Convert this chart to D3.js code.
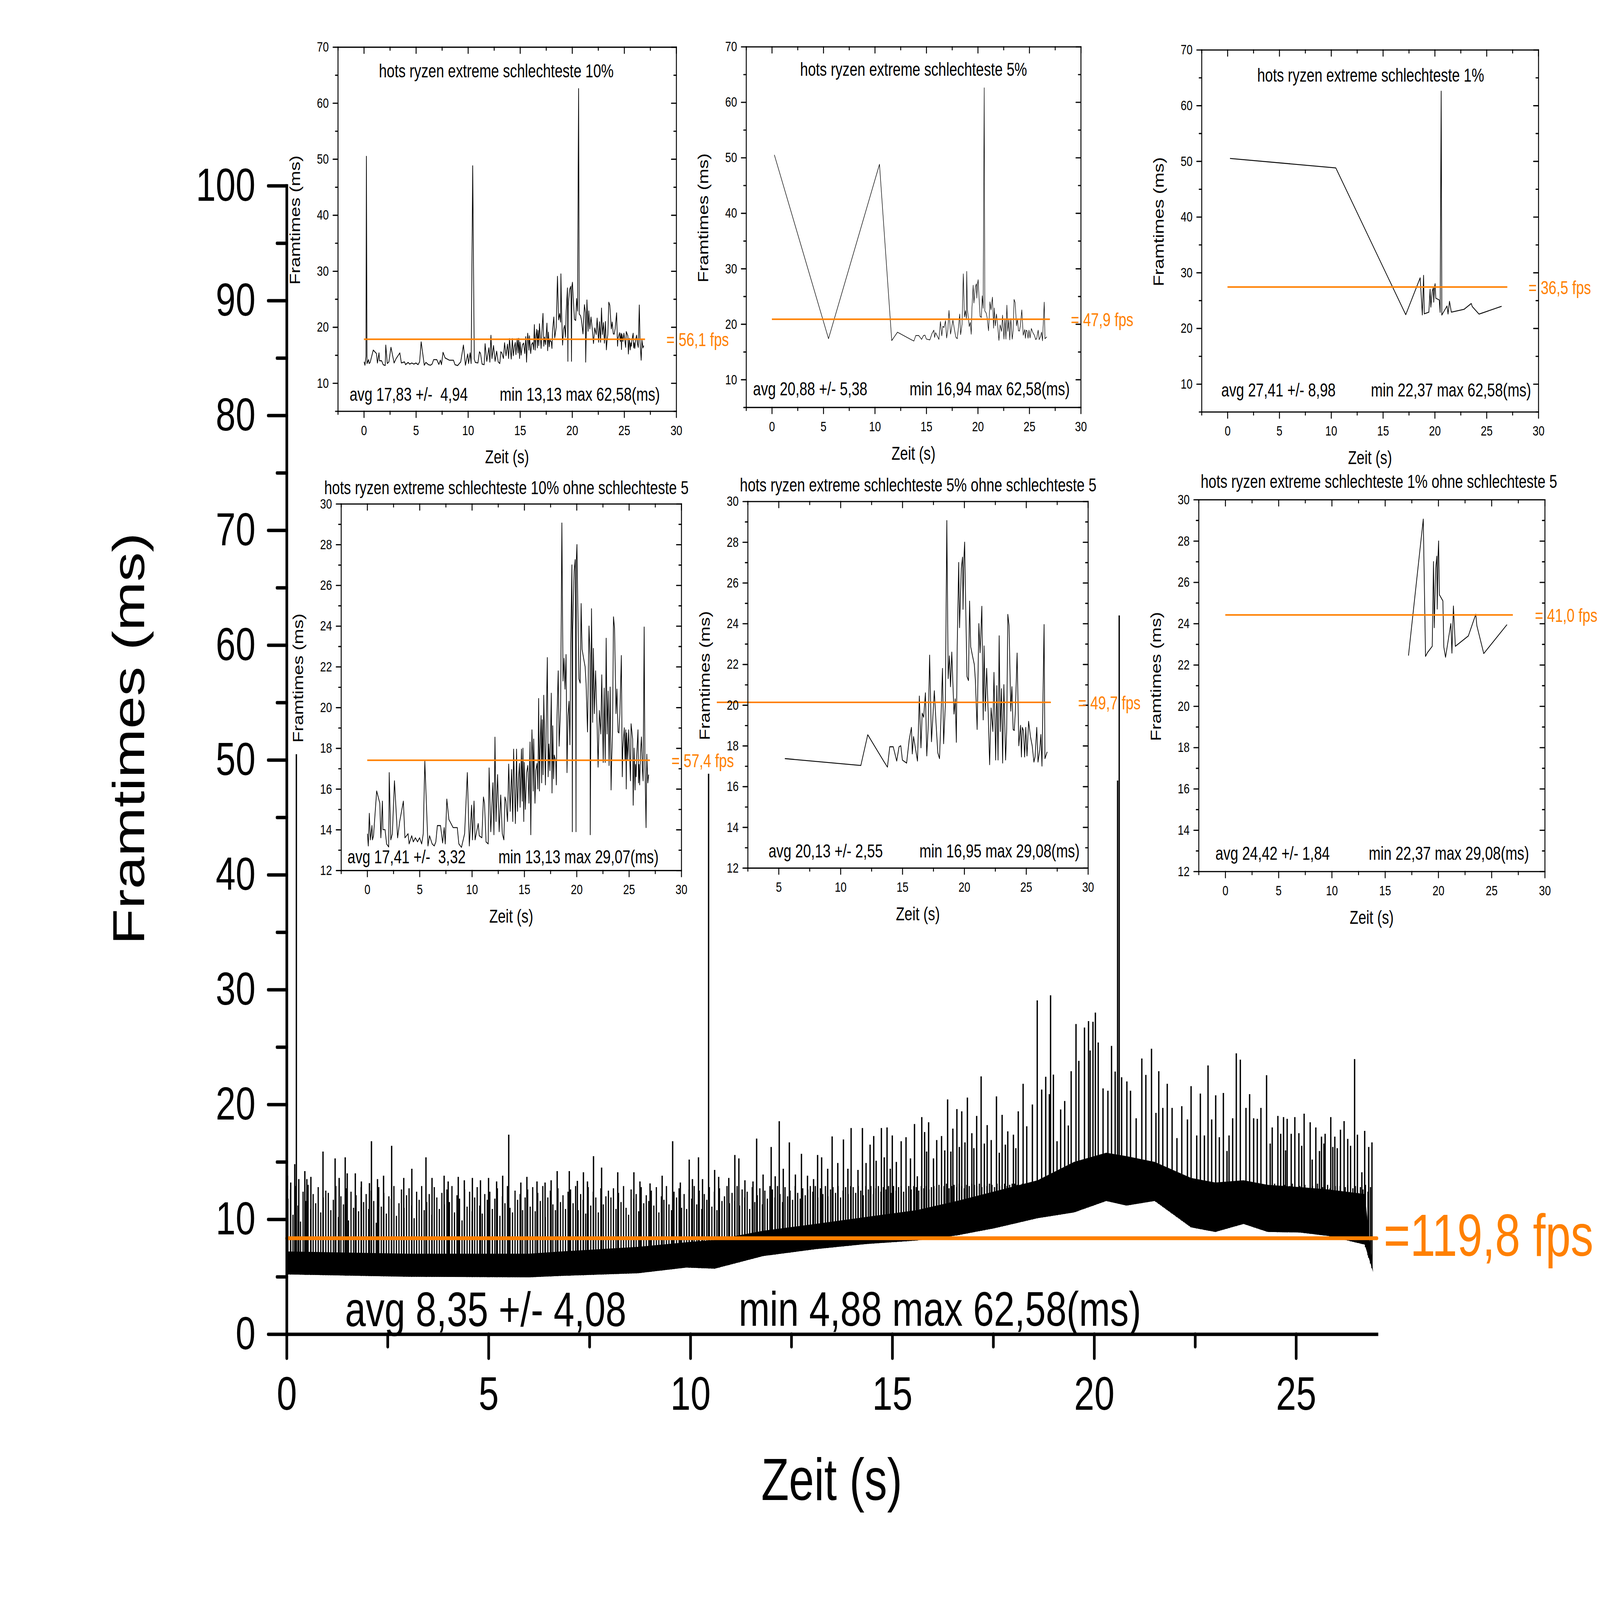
<!DOCTYPE html>
<html>
<head>
<meta charset="utf-8">
<script src="https://cdn.jsdelivr.net/npm/d3@7"></script>
<style>
html, body { margin: 0; padding: 0; background: #fff; overflow: hidden; }
svg { display: block; width: 100vw; height: 100vh; }
text { white-space: pre; }
</style>
</head>
<body>
<script>
// ---------- data ----------
// worst 10 % frames (time in s, frametime in ms); the other insets are subsets of it
const worstT = [0.02,0.1,0.2,0.24,0.3,0.45,0.5,0.6,0.9,1.2,1.3,1.45,1.5,1.7,1.85,2.05,2.1,2.25,2.4,2.6,2.9,3.1,3.45,3.6,3.9,4.0,4.25,4.4,4.6,4.8,5.0,5.2,5.35,5.5,5.8,5.95,6.2,6.4,6.55,6.7,7.0,7.2,7.35,7.45,7.6,7.8,8.2,8.6,8.75,9.0,9.3,9.56,9.75,9.97,10.05,10.2,10.3,10.45,10.6,10.7,10.95,11.1,11.2,11.35,11.55,11.64,11.8,12.0,12.1,12.2,12.3,12.45,12.6,12.75,12.9,13.05,13.15,13.25,13.4,13.51,13.65,13.79,13.9,13.98,14.15,14.26,14.35,14.45,14.54,14.6,14.73,14.8,14.87,14.95,15.0,15.1,15.22,15.34,15.45,15.55,15.62,15.73,15.8,15.85,15.9,16.02,16.1,16.22,16.3,16.37,16.45,16.5,16.6,16.66,16.72,16.8,16.86,16.97,17.02,17.09,17.2,17.28,17.35,17.45,17.58,17.65,17.72,17.8,17.86,18.0,18.06,18.12,18.24,18.33,18.47,18.59,18.7,18.8,18.89,18.92,18.99,19.08,19.17,19.27,19.36,19.43,19.55,19.59,19.62,19.76,19.86,19.9,19.94,19.97,20.03,20.1,20.22,20.34,20.43,20.52,20.58,20.62,20.68,20.81,20.9,21.04,21.18,21.28,21.3,21.42,21.53,21.6,21.7,21.81,21.93,22.05,22.17,22.31,22.4,22.54,22.63,22.73,22.82,22.91,23.01,23.1,23.2,23.29,23.34,23.43,23.52,23.62,23.76,23.85,23.95,24.04,24.13,24.27,24.36,24.41,24.55,24.62,24.69,24.74,24.78,24.88,24.97,25.07,25.14,25.2,25.35,25.4,25.49,25.58,25.63,25.69,25.72,25.86,25.91,25.96,26.02,26.1,26.19,26.28,26.35,26.45,26.52,26.63,26.7,26.8,26.88];
const worstMs = [13.8,13.2,14.8,50.5,13.5,14.2,13.5,13.7,15.9,15.3,13.6,15.4,14.0,14.0,13.3,13.15,16.8,13.5,13.8,16.4,13.6,14.4,15.4,13.6,13.8,13.3,13.7,13.4,13.6,13.4,13.6,13.3,13.8,17.37,13.2,13.7,13.3,13.2,13.4,14.2,14.2,13.35,14.1,13.3,15.5,14.5,14.1,14.1,13.3,13.13,13.8,16.8,13.2,15.2,13.5,15.4,13.5,48.8,14.3,13.7,13.6,15.6,15.3,13.4,13.3,17.03,13.9,16.3,13.75,18.54,14.4,16.7,13.9,15.7,13.8,13.5,15.6,15.4,14.4,17.22,14.9,16.95,14.4,17.95,14.3,17.95,14.9,16.5,17.25,15.1,17.95,15.4,18.0,14.4,17.3,15.0,16.8,17.15,15.3,18.3,13.75,18.9,17.6,15.9,18.45,15.3,16.9,17.25,16.0,20.44,15.9,17.9,19.6,16.3,19.4,16.7,20.6,17.5,16.2,19.0,22.45,16.6,18.2,16.9,20.7,15.8,19.1,16.5,17.66,17.37,16.2,19.4,21.8,18.1,20.0,29.06,21.3,22.41,20.9,29.5,22.6,16.8,19.56,20.3,18.17,22.9,27.0,13.9,23.8,26.7,27.26,24.7,13.9,27.2,28.0,25.4,21.4,21.2,25.1,22.86,48.2,62.58,22.37,22.0,21.2,18.8,24.0,22.57,13.75,24.85,19.27,22.9,19.7,21.8,19.7,17.07,19.85,18.7,21.6,17.3,20.95,17.3,23.4,18.7,20.8,17.15,21.0,15.95,17.3,18.8,24.45,23.9,19.7,20.9,18.8,18.75,19.7,22.55,16.6,18.0,19.0,17.45,18.9,16.0,18.75,17.45,18.9,17.5,16.4,19.2,18.45,15.2,18.0,15.95,17.2,16.6,17.45,18.9,16.3,17.2,16.2,17.8,18.55,17.0,16.4,23.95,17.37,14.1,17.7,16.3,16.7];

// main trace: dense body of the frametime band (lowest frames / top of the solid part)
const bodyT  = [0, 3, 6, 6.8, 8.7, 9.9, 10.6, 11.8, 13.1, 14.35, 15.6, 16.6, 17.5, 18.6, 19.5, 20.3, 20.8, 21.5, 22.4, 23.0, 23.7, 24.3, 25.1, 25.8, 26.7, 26.91];
const bodyLo = [5.2, 5.0, 4.95, 5.07, 5.3, 5.8, 5.7, 6.8, 7.4, 7.85, 8.15, 8.6, 9.2, 10.1, 10.6, 11.6, 11.2, 11.6, 9.3, 8.9, 9.6, 8.9, 8.85, 8.55, 7.8, 5.4];
const bodyHi = [7.2, 7.0, 7.0, 7.2, 7.6, 8.0, 8.2, 9.0, 9.6, 10.2, 10.8, 11.6, 12.4, 13.4, 15.0, 15.8, 15.5, 15.0, 13.6, 13.2, 13.4, 13.0, 12.8, 12.6, 12.2, 5.4];

// main trace: the remaining frame peaks below 13,13 ms, 16 frames per second of recording
const peakMs = [
  [11.8,12.6,10.4,12.9,11.2,9.8,12.4,11.6,13.0,10.9,12.2,11.4,12.8,10.6,11.9,12.5],
  [12.3,10.8,11.7,12.9,10.2,12.0,11.3,12.7,9.9,12.4,11.0,12.1,10.7,12.8,11.5,12.2],
  [10.9,12.5,11.6,9.7,12.8,11.1,12.3,10.5,12.0,11.8,12.9,10.3,11.4,12.6,11.0,12.1],
  [12.7,11.2,10.1,12.4,11.7,12.9,10.8,11.5,12.2,10.4,12.8,11.9,10.9,12.3,11.3,12.6],
  [11.5,12.9,10.6,12.1,11.8,9.9,12.6,11.1,12.4,10.7,11.9,12.8,11.2,10.5,12.2,11.7],
  [12.4,10.9,11.8,12.7,10.3,12.0,11.4,12.9,11.0,10.6,12.5,11.7,12.2,10.8,11.9,12.6],
  [11.1,12.8,10.7,12.3,11.6,12.9,10.2,11.9,12.5,11.3,10.8,12.7,11.5,12.1,10.9,12.4],
  [12.6,11.4,12.9,10.8,12.2,11.7,10.5,12.8,11.2,12.4,11.9,10.6,12.7,11.3,12.0,12.5],
  [11.9,12.7,10.9,12.3,11.5,12.9,11.0,10.4,12.6,11.8,12.2,10.7,12.8,11.4,12.1,11.6],
  [12.5,11.2,12.8,10.6,12.0,11.7,12.9,11.3,10.8,12.4,11.9,12.7,11.0,12.2,10.9,12.6],
  [11.8,12.9,11.3,12.5,10.9,12.2,11.7,12.8,11.1,12.4,10.8,12.7,11.6,12.0,12.9,11.4],
  [12.3,11.6,12.9,11.2,12.6,11.9,12.4,10.9,12.8,11.5,12.1,12.7,11.3,12.5,11.8,12.9],
  [12.6,11.9,12.9,12.2,11.5,12.8,12.0,12.5,11.7,12.9,12.3,11.8,12.7,12.1,12.6,12.9],
  [12.4,12.9,11.9,12.7,12.2,12.9,12.0,12.6,12.8,12.3,12.9,11.9,12.5,12.8,12.2,12.9],
  [12.8,12.3,12.9,12.5,12.1,12.9,12.6,12.9,12.2,12.7,12.9,12.4,12.8,12.6,12.9,12.3],
  [12.9,12.5,12.8,12.9,12.4,12.7,12.9,12.6,12.9,12.8,12.5,12.9,12.7,12.9,12.6,12.8],
  [12.9,12.7,13.0,12.8,12.9,13.1,12.7,12.9,13.0,12.8,13.1,12.9,12.7,13.0,12.9,13.1],
  [13.0,12.9,13.1,12.8,13.0,12.9,13.1,13.0,12.8,13.1,12.9,13.0,13.1,12.9,13.0,13.1],
  [13.1,13.0,12.9,13.1,13.0,13.1,12.9,13.0,13.1,13.0,12.9,13.1,13.0,13.1,12.9,13.0],
  [13.0,13.1,13.0,12.9,13.1,13.0,13.1,13.0,12.9,13.1,13.0,13.1,13.0,13.1,13.0,12.9],
  [13.1,13.0,13.1,13.0,13.1,12.9,13.0,13.1,13.0,13.1,13.0,12.9,13.1,13.0,13.1,13.0],
  [13.0,13.1,12.9,13.0,13.1,13.0,13.1,12.9,13.0,13.1,13.0,13.1,12.9,13.0,13.1,13.0],
  [12.9,13.1,13.0,12.8,13.1,12.9,13.0,13.1,12.8,13.0,12.9,13.1,13.0,12.8,13.1,12.9],
  [12.8,13.0,12.6,13.1,12.9,12.7,13.0,12.8,13.1,12.6,12.9,13.0,12.7,13.1,12.8,12.9],
  [12.7,13.1,12.5,12.9,13.0,12.6,12.8,13.1,12.4,12.9,12.7,13.0,12.6,12.9,13.1,12.5],
  [12.6,12.9,12.3,13.0,12.7,12.4,12.9,12.6,13.1,12.3,12.8,12.5,13.0,12.7,12.4,12.9],
  [12.5,12.9,12.2,12.8,13.0,12.4,12.7,12.9,12.3,12.8,12.6,13.0,12.4,12.8]
];

const mainAvgMs = 8.35;
const mainAvgText = "avg 8,35 +/- 4,08";
const mainMinMaxText = "min 4,88 max 62,58(ms)";
const mainFpsText = "=119,8 fps";
const mainXTicks = [0, 5, 10, 15, 20, 25];
const mainXMinor = [2.5, 7.5, 12.5, 17.5, 22.5];
const mainYTicks = [0, 10, 20, 30, 40, 50, 60, 70, 80, 90, 100];
const mainYMinor = [5, 15, 25, 35, 45, 55, 65, 75, 85, 95];

const insetTitles = [
  "hots ryzen extreme schlechteste 10%",
  "hots ryzen extreme schlechteste 5%",
  "hots ryzen extreme schlechteste 1%",
  "hots ryzen extreme schlechteste 10% ohne schlechteste 5",
  "hots ryzen extreme schlechteste 5% ohne schlechteste 5",
  "hots ryzen extreme schlechteste 1% ohne schlechteste 5"
];
const insetAvgText = ["avg 17,83 +/-  4,94", "avg 20,88 +/- 5,38", "avg 27,41 +/- 8,98",
                      "avg 17,41 +/-  3,32", "avg 20,13 +/- 2,55", "avg 24,42 +/- 1,84"];
const insetMinMaxText = ["min 13,13 max 62,58(ms)", "min 16,94 max 62,58(ms)", "min 22,37 max 62,58(ms)",
                         "min 13,13 max 29,07(ms)", "min 16,95 max 29,08(ms)", "min 22,37 max 29,08(ms)"];
const insetFpsText = ["= 56,1 fps", "= 47,9 fps", "= 36,5 fps", "= 57,4 fps", "= 49,7 fps", "= 41,0 fps"];
const insetAvgMs = [17.83, 20.88, 27.41, 17.41, 20.13, 24.42];
const insetMinMs = [13.13, 16.94, 22.37, 13.13, 16.95, 22.37];
const insetXTicks = [0, 5, 10, 15, 20, 25, 30];
const insetXMinor = [-2.5, 2.5, 7.5, 12.5, 17.5, 22.5, 27.5];
const insetYTicksWide = [10, 20, 30, 40, 50, 60, 70];
const insetYMinorWide = [5, 15, 25, 35, 45, 55, 65];
const insetYTicksNarrow = [12, 14, 16, 18, 20, 22, 24, 26, 28, 30];
const insetYMinorNarrow = [13, 15, 17, 19, 21, 23, 25, 27, 29];

// ---------- layout ----------
const W = 6000, H = 4592;
const FONT = '"Liberation Sans", Arial, Helvetica, sans-serif';
const ORANGE = "#ff8000";

const insetBoxes = [
  {l: 1267, t: 135, r: 2536, b: 1180, xd: [-2.5, 30], yd: [5, 70], title: [1861, 222], avg: [1311, 1150], mm: 1874, sw: 2.6},
  {l: 2798, t: 134, r: 4053, b: 1169, xd: [-2.5, 30], yd: [5, 70], title: [3426, 218], avg: [2824, 1134], mm: 3411, sw: 1.9},
  {l: 4506, t: 143, r: 5769, b: 1182, xd: [-2.5, 30], yd: [5, 70], title: [5140, 234], avg: [4580, 1138], mm: 5141, sw: 2.6},
  {l: 1279, t: 1446, r: 2555, b: 2498, xd: [-2.5, 30], yd: [12, 30], title: [1899, 1418], avg: [1303, 2478], mm: 1869, sw: 2.6},
  {l: 2804, t: 1439, r: 4080, b: 2491, xd: [2.5, 30], yd: [12, 30], title: [3443, 1410], avg: [2882, 2461], mm: 3448, sw: 2.6},
  {l: 4495, t: 1434, r: 5793, b: 2501, xd: [-2.5, 30], yd: [12, 30], title: [5171, 1400], avg: [4558, 2468], mm: 5133, sw: 2.6}
];

const svg = d3.select("body").append("svg")
    .attr("viewBox", `0 0 ${W} ${H}`)
    .attr("preserveAspectRatio", "none")
    .attr("font-family", FONT);
svg.append("rect").attr("width", W).attr("height", H).attr("fill", "#fff");

function axis(g, gen, vals, size, pad, withLabels, fs, sw, transform) {
  const a = g.append("g").attr("transform", transform)
      .call(gen.tickValues(vals).tickSize(size).tickSizeOuter(0).tickPadding(pad)
        .tickFormat(withLabels ? d3.format("d") : () => ""));
  a.attr("font-family", FONT).attr("font-size", fs).attr("color", "#000");
  a.selectAll(".tick line").attr("stroke-width", sw).attr("stroke-linecap", "round");
  a.select(".domain").attr("stroke-width", sw).attr("stroke-linecap", "square");
  return a;
}

// ---------- main chart ----------
const x = d3.scaleLinear().domain([0, 27]).range([1075, 5163]);
const y = d3.scaleLinear().domain([0, 100]).range([3829, 533]);
const floorAt = d3.scaleLinear().domain(bodyT).range(bodyLo);

const main = svg.append("g");

main.append("path")
    .datum(bodyT.map((t, i) => ({t, lo: bodyLo[i], hi: bodyHi[i]})))
    .attr("fill", "#000")
    .attr("d", d3.area().x(d => x(d.t)).y0(d => y(d.lo)).y1(d => y(d.hi)));

const peaks = [];
peakMs.forEach((row, k) => row.forEach((v, i) => peaks.push({t: k + (i + 0.5) / 16, v})));
main.append("path")
    .attr("fill", "none").attr("stroke", "#000").attr("stroke-width", 4.5)
    .attr("d", peaks.map(d => `M${x(d.t)},${y(floorAt(d.t))}V${y(d.v)}`).join(""));

main.append("path")
    .attr("fill", "none").attr("stroke", "#000").attr("stroke-width", 5)
    .attr("d", worstT.map((t, i) => `M${x(t)},${y(floorAt(t))}V${y(worstMs[i])}`).join(""));

main.append("line")
    .attr("x1", x(0)).attr("x2", x(27)).attr("y1", y(mainAvgMs)).attr("y2", y(mainAvgMs))
    .attr("stroke", ORANGE).attr("stroke-width", 11).attr("stroke-linecap", "round");

axis(main, d3.axisLeft(y), mainYTicks, 69, 48, true, 134, 10, `translate(${x(0)},0)`);
axis(main, d3.axisLeft(y), mainYMinor, 36, 0, false, 134, 10, `translate(${x(0)},0)`).select(".domain").remove();
axis(main, d3.axisBottom(x), mainXTicks, 69, 52, true, 136, 10, `translate(0,${y(0)})`);
axis(main, d3.axisBottom(x), mainXMinor, 36, 0, false, 136, 10, `translate(0,${y(0)})`).select(".domain").remove();

main.append("text").attr("x", 1294).attr("y", 3806).attr("font-size", 140).text(mainAvgText);
main.append("text").attr("x", 2770).attr("y", 3805).attr("font-size", 140).text(mainMinMaxText);
main.append("text").attr("x", 5189).attr("y", y(mainAvgMs) + 50).attr("font-size", 170)
    .attr("fill", ORANGE).text(mainFpsText);
main.append("text").attr("x", (x.range()[0] + x.range()[1]) / 2).attr("y", 4305)
    .attr("text-anchor", "middle").attr("font-size", 170).text("Zeit (s)");
main.append("text").attr("transform", "translate(540,2120) rotate(-90)")
    .attr("text-anchor", "middle").attr("font-size", 169).text("Framtimes (ms)");

// ---------- insets ----------
const worst = worstT.map((t, i) => ({t, v: worstMs[i]}));
const worst5 = worst.slice().sort((a, b) => b.v - a.v).slice(0, 5);
const withoutWorst5 = worst.filter(d => !worst5.includes(d));
const insetSeries = insetMinMs.map((m, k) =>
  (k < 3 ? worst : withoutWorst5).filter(d => d.v >= m - 0.005));

insetBoxes.forEach((b, k) => {
  const g = svg.append("g");
  const ix = d3.scaleLinear().domain(b.xd).range([b.l, b.r]);
  const iy = d3.scaleLinear().domain(b.yd).range([b.b, b.t]);
  const wide = b.yd[0] === 5;
  const yMaj = wide ? insetYTicksWide : insetYTicksNarrow;
  const yMin = wide ? insetYMinorWide : insetYMinorNarrow;
  const xMaj = insetXTicks.filter(v => v >= b.xd[0]);
  const xMin = insetXMinor.filter(v => v >= b.xd[0]);

  g.append("path").datum(insetSeries[k])
      .attr("fill", "none").attr("stroke", "#000").attr("stroke-width", b.sw)
      .attr("stroke-linejoin", "round")
      .attr("d", d3.line().x(d => ix(d.t)).y(d => iy(d.v)));

  g.append("line")
      .attr("x1", ix(0)).attr("x2", ix(27)).attr("y1", iy(insetAvgMs[k])).attr("y2", iy(insetAvgMs[k]))
      .attr("stroke", ORANGE).attr("stroke-width", 4.5);

  // left / bottom: outward ticks with labels; top / right: inward ticks
  axis(g, d3.axisLeft(iy), yMaj, 18, 16, true, 40, 3.5, `translate(${b.l},0)`);
  axis(g, d3.axisLeft(iy), yMin, 9, 0, false, 40, 3.5, `translate(${b.l},0)`).select(".domain").remove();
  axis(g, d3.axisRight(iy), yMaj, -18, 0, false, 40, 3.5, `translate(${b.r},0)`);
  axis(g, d3.axisRight(iy), yMin, -9, 0, false, 40, 3.5, `translate(${b.r},0)`).select(".domain").remove();
  axis(g, d3.axisBottom(ix), xMaj, 18, 22, true, 40, 3.5, `translate(0,${b.b})`);
  axis(g, d3.axisBottom(ix), xMin, 9, 0, false, 40, 3.5, `translate(0,${b.b})`).select(".domain").remove();
  axis(g, d3.axisTop(ix), xMaj, -18, 0, false, 40, 3.5, `translate(0,${b.t})`);
  axis(g, d3.axisTop(ix), xMin, -9, 0, false, 40, 3.5, `translate(0,${b.t})`).select(".domain").remove();

  g.append("text").attr("x", b.title[0]).attr("y", b.title[1]).attr("text-anchor", "middle")
      .attr("font-size", 53).text(insetTitles[k]);
  g.append("text").attr("x", b.avg[0]).attr("y", b.avg[1]).attr("font-size", 53).text(insetAvgText[k]);
  g.append("text").attr("x", b.mm).attr("y", b.avg[1]).attr("font-size", 53).text(insetMinMaxText[k]);
  g.append("text").attr("x", b.r - 37).attr("y", iy(insetAvgMs[k]) + 20).attr("font-size", 53)
      .attr("fill", ORANGE).text(insetFpsText[k]);
  g.append("text").attr("x", (b.l + b.r) / 2).attr("y", b.b + 150).attr("text-anchor", "middle")
      .attr("font-size", 53).text("Zeit (s)");
  g.append("text").attr("transform", `translate(${b.l - 142},${(b.t + b.b) / 2 - 26}) rotate(-90)`)
      .attr("text-anchor", "middle").attr("font-size", 53).text("Framtimes (ms)");
});
</script>
</body>
</html>
